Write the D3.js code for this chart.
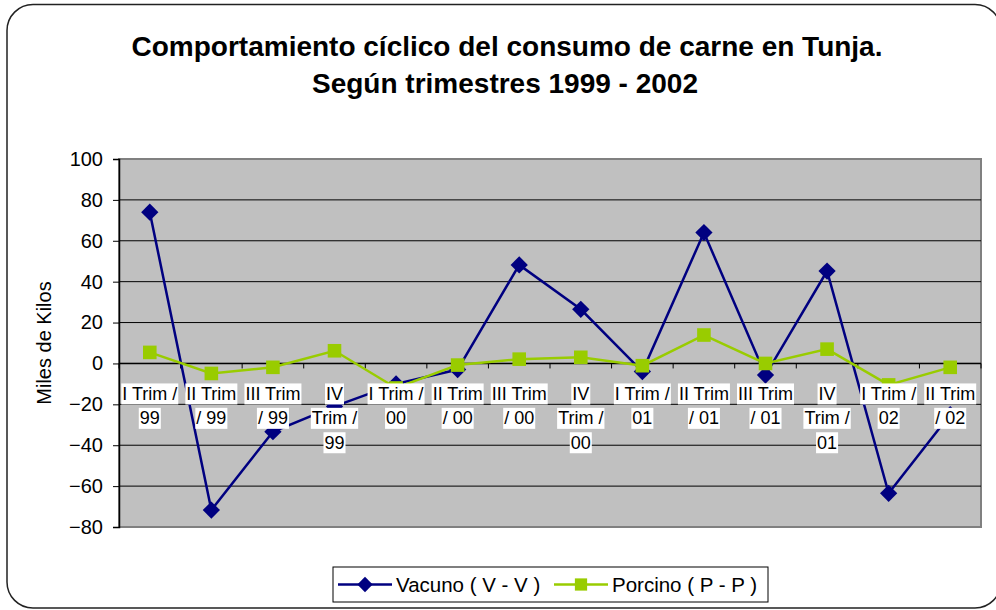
<!DOCTYPE html>
<html>
<head>
<meta charset="utf-8">
<script src="https://cdn.jsdelivr.net/npm/d3@7"></script>
<style>
  body { margin:0; background:#fff; }
  text { font-family: Arial, "Liberation Sans", sans-serif; }
</style>
</head>
<body>
<svg class="chart" width="996" height="610"></svg>
<script>
// datos
var categorias = ["I Trim / 99","II Trim / 99","III Trim / 99","IV Trim / 99",
  "I Trim / 00","II Trim / 00","III Trim / 00","IV Trim / 00",
  "I Trim / 01","II Trim / 01","III Trim / 01","IV Trim / 01",
  "I Trim / 02","II Trim / 02"];
// como Excel parte las etiquetas
var etiquetas = [["I Trim /","99"],["II Trim","/ 99"],["III Trim","/ 99"],["IV","Trim /","99"],
  ["I Trim /","00"],["II Trim","/ 00"],["III Trim","/ 00"],["IV","Trim /","00"],
  ["I Trim /","01"],["II Trim","/ 01"],["III Trim","/ 01"],["IV","Trim /","01"],
  ["I Trim /","02"],["II Trim","/ 02"]];
var vacuno  = [74, -71.7, -33.4, -21, -10, -3, 48.2, 26.5, -4, 64, -5.7, 45.2, -63.5, -25];
var porcino = [5.4, -4.9, -1.9, 6.2, -12, -0.8, 2.1, 3, -1.1, 13.9, 0, 7, -10.5, -1.9];
var yTicks = [-80,-60,-40,-20,0,20,40,60,80,100];

var series = [
  {name:"Vacuno ( V - V )", values:vacuno, color:"#000080", mark:"diamond"},
  {name:"Porcino ( P - P )", values:porcino, color:"#99CC00", mark:"square"}
];

var svg = d3.select(".chart");

// marco redondeado
svg.append("rect")
  .attr("x",7).attr("y",4.5).attr("width",994).attr("height",603.5)
  .attr("rx",26)
  .attr("fill","#fff").attr("stroke","#222").attr("stroke-width",1.5);

// titulo
var titulo = svg.append("text")
  .attr("text-anchor","middle")
  .attr("font-weight","bold").attr("font-size","28px");
titulo.append("tspan").attr("x",507).attr("y",56).text("Comportamiento cíclico del consumo de carne en Tunja.");
titulo.append("tspan").attr("x",505).attr("y",93).text("Según trimestres 1999 - 2002");

var pLeft = 119, pRight = 981, pTop = 159, pBottom = 527;

var x = d3.scalePoint().domain(categorias).range([pLeft,pRight]).padding(0.5);
var y = d3.scaleLinear().domain([-80,100]).range([pBottom,pTop]);

// area de trazado
svg.append("rect")
  .attr("x",pLeft).attr("y",pTop).attr("width",pRight-pLeft).attr("height",pBottom-pTop)
  .attr("fill","#C0C0C0").attr("stroke","#808080").attr("stroke-width",2);

// lineas de division
svg.append("g").selectAll("line")
  .data(yTicks.filter(d=>d!==-80 && d!==100))
  .enter().append("line")
    .attr("x1",pLeft).attr("x2",pRight)
    .attr("y1",d=>y(d)).attr("y2",d=>y(d))
    .attr("stroke","#000").attr("stroke-width",1);

// eje y
var yAxis = svg.append("g")
  .attr("transform","translate("+pLeft+",0)")
  .call(d3.axisLeft(y).tickValues(yTicks).tickSize(6).tickPadding(10));
yAxis.select(".domain").attr("stroke","#000").attr("stroke-width",1.5);
yAxis.selectAll("text").attr("font-size","20px").attr("fill","#000")
  .attr("font-family","Arial, 'Liberation Sans', sans-serif");

svg.append("text")
  .attr("transform","translate(51,343) rotate(-90)")
  .attr("text-anchor","middle").attr("font-size","20px")
  .text("Miles de Kilos");

// eje x sobre el cero
var step = x.step();
svg.append("line")
  .attr("x1",pLeft).attr("x2",pRight).attr("y1",y(0)).attr("y2",y(0))
  .attr("stroke","#000").attr("stroke-width",1.5);
svg.append("g").selectAll("line")
  .data(d3.range(categorias.length+1))
  .enter().append("line")
    .attr("x1",i=>pLeft+i*step).attr("x2",i=>pLeft+i*step)
    .attr("y1",y(0)).attr("y2",y(0)+5)
    .attr("stroke","#000").attr("stroke-width",1);

// series
var line = d3.line().x((d,i)=>x(categorias[i])).y(d=>y(d));
series.forEach(s=>{
  svg.append("path")
    .datum(s.values)
    .attr("d",line)
    .attr("fill","none").attr("stroke",s.color).attr("stroke-width",2.5);
  var sym = s.mark==="diamond" ? d3.symbol().type(d3.symbolDiamond2).size(190)
                               : d3.symbol().type(d3.symbolSquare).size(185);
  svg.append("g").selectAll("path")
    .data(s.values)
    .enter().append("path")
      .attr("d",sym)
      .attr("transform",(d,i)=>"translate("+x(categorias[i])+","+y(d)+")")
      .attr("fill",s.color);
});

// etiquetas de categoria con fondo blanco
var lab = svg.append("g").selectAll("g")
  .data(etiquetas)
  .enter().append("g")
    .attr("transform",(d,i)=>"translate("+x(categorias[i])+","+(y(0)+20)+")");
lab.each(function(lines){
  var g = d3.select(this);
  lines.forEach((t,j)=>{
    var bg = g.append("rect").attr("fill","#fff");
    var tx = g.append("text")
      .attr("text-anchor","middle").attr("y",j*24.4+16.5)
      .attr("font-size","18px").text(t);
    var w = tx.node().getComputedTextLength();
    bg.attr("x",-w/2-1).attr("y",j*24.4).attr("width",w+2).attr("height",21);
  });
});

// leyenda
var leg = svg.append("g");
leg.append("rect")
  .attr("x",333).attr("y",567).attr("width",435).attr("height",35)
  .attr("fill","#fff").attr("stroke","#000").attr("stroke-width",1);
var legX = [338,554];
series.forEach((s,i)=>{
  var gx = legX[i];
  leg.append("line").attr("x1",gx).attr("x2",gx+54).attr("y1",584.5).attr("y2",584.5)
    .attr("stroke",s.color).attr("stroke-width",2.5);
  var sym = s.mark==="diamond" ? d3.symbol().type(d3.symbolDiamond2).size(150)
                               : d3.symbol().type(d3.symbolSquare).size(150);
  leg.append("path").attr("d",sym).attr("transform","translate("+(gx+27)+",584.5)")
    .attr("fill",s.color);
  leg.append("text").attr("x",gx+58).attr("y",592).attr("font-size","20.5px").text(s.name);
});
</script>
</body>
</html>
